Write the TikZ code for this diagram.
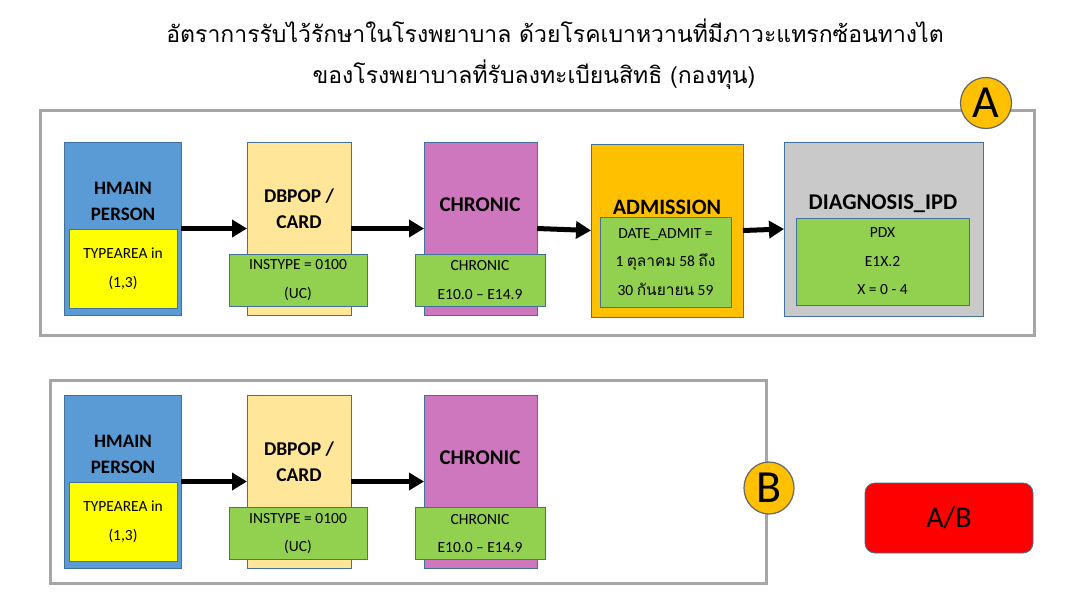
\documentclass[tikz,border=0pt]{standalone}
\usepackage{fontspec}
\setmainfont{Carlito}
\newfontfamily\thaifont[Script=Thai]{Loma}
\usetikzlibrary{arrows.meta,shapes.geometric}

\definecolor{hmainblue}{HTML}{5B9BD5}
\definecolor{dbpopcream}{HTML}{FFE699}
\definecolor{chronicpink}{HTML}{CF77BE}
\definecolor{admitorange}{HTML}{FFC000}
\definecolor{diaggray}{HTML}{C9C9C9}
\definecolor{condgreen}{HTML}{92D050}
\definecolor{areayellow}{HTML}{FFFF00}
\definecolor{framegray}{HTML}{A6A6A6}
\definecolor{edgeblue}{HTML}{41719C}

\tikzset{
  tbl/.style={draw=edgeblue, line width=0.5pt, inner sep=0pt, outer sep=0pt},
  cond/.style={draw=edgeblue, line width=0.8pt, fill=condgreen, inner sep=0pt,
    align=center, font=\fontsize{15.5}{28.5}\selectfont},
  head/.style={align=center, inner sep=0pt, font=\fontsize{#1}{26}\selectfont\bfseries},
  head/.default=19,
  flow/.style={-{Triangle[length=15pt,width=17pt]}, line width=5pt, black},
  frame/.style={draw=framegray, line width=3pt},
  tag/.style={circle, fill=admitorange, draw=gray!80!black, line width=1.2pt,
    inner sep=0pt, font=\fontsize{46}{46}\selectfont}
}

\begin{document}
\begin{tikzpicture}[x=1pt, y=-1pt]
  \useasboundingbox (0,0) rectangle (1085,606);

  % Title
  \node[font=\thaifont\fontsize{23}{27}\selectfont] (title1) at (555,31)
    {อัตราการรับไว้รักษาในโรงพยาบาล ด้วยโรคเบาหวานที่มีภาวะแทรกซ้อนทางไต};
  \node[font=\thaifont\fontsize{23}{27}\selectfont] (title2) at (534,75)
    {ของโรงพยาบาลที่รับลงทะเบียนสิทธิ (กองทุน)};

  % Frame A
  \draw[frame] (40,110) rectangle (1034,335);

  % Tables of A
  \node[tbl, fill=hmainblue, minimum width=117pt, minimum height=173pt] (hmainA) at (122.5,228.5) {};
  \node[tbl, fill=dbpopcream, minimum width=104pt, minimum height=173pt] (dbpopA) at (299,228.5) {};
  \node[tbl, fill=chronicpink, minimum width=113pt, minimum height=173pt] (chronicA) at (480.5,228.5) {};
  \node[tbl, fill=admitorange, minimum width=152pt, minimum height=173pt] (admitA) at (667,230.5) {};
  \node[tbl, fill=diaggray, minimum width=199pt, minimum height=174pt] (diagA) at (883.5,229) {};

  \node[head] (hmainAlbl) at (123,201) {HMAIN\\PERSON};
  \node[head=19.5] (dbpopAlbl) at (299,209) {DBPOP /\\CARD};
  \node[head=21] (chronicAlbl) at (480,205) {CHRONIC};
  \node[head=22] (admitAlbl) at (667,207) {ADMISSION};
  \node[head=22.5] (diagAlbl) at (883,204) {DIAGNOSIS\_IPD};

  % Conditions of A
  \node[cond, fill=areayellow, minimum width=108pt, minimum height=79pt] (areaA) at (123,268.5) {TYPEAREA in\\(1,3)};
  \node[cond, minimum width=138pt, minimum height=52pt] (instA) at (298,280) {INSTYPE = 0100\\(UC)};
  \node[cond, minimum width=130pt, minimum height=52pt] (codeA) at (480,280) {CHRONIC\\E10.0 -- E14.9};
  \node[cond, minimum width=131pt, minimum height=90pt] (dateA) at (665.5,262)
    {DATE\_ADMIT =\\1 {\thaifont ตุลาคม} 58 {\thaifont ถึง}\\ 30 {\thaifont กันยายน} 59};
  \node[cond, minimum width=173pt, minimum height=87pt] (pdxA) at (882.5,261.5) {PDX\\E1X.2\\X = 0 - 4};

  \draw[flow] (hmainA) -- (dbpopA);
  \draw[flow] (dbpopA) -- (chronicA);
  \draw[flow] (chronicA.east) -- (admitA.west);
  \draw[flow] (admitA.east) -- (diagA.west);

  \node[tag, minimum size=51pt] (tagA) at (986,103) {A};

  % Frame B
  \draw[frame] (50,380) rectangle (766,583);

  \node[tbl, fill=hmainblue, minimum width=117pt, minimum height=173pt] (hmainB) at (122.5,481.5) {};
  \node[tbl, fill=dbpopcream, minimum width=104pt, minimum height=173pt] (dbpopB) at (299,481.5) {};
  \node[tbl, fill=chronicpink, minimum width=113pt, minimum height=173pt] (chronicB) at (480.5,481.5) {};

  \node[head] (hmainBlbl) at (123,454) {HMAIN\\PERSON};
  \node[head=19.5] (dbpopBlbl) at (299,462) {DBPOP /\\CARD};
  \node[head=21] (chronicBlbl) at (480,458) {CHRONIC};

  \node[cond, fill=areayellow, minimum width=108pt, minimum height=79pt] (areaB) at (123,521.5) {TYPEAREA in\\(1,3)};
  \node[cond, minimum width=138pt, minimum height=52pt] (instB) at (298,533.5) {INSTYPE = 0100\\(UC)};
  \node[cond, minimum width=130pt, minimum height=52pt] (codeB) at (480,533.5) {CHRONIC\\E10.0 -- E14.9};

  \draw[flow] (hmainB) -- (dbpopB);
  \draw[flow] (dbpopB) -- (chronicB);

  \node[tag, ellipse, minimum width=50pt, minimum height=52pt] (tagB) at (769,488) {B};

  % Ratio
  \node[draw=edgeblue, line width=0.8pt, fill=red, rounded corners=10pt, minimum width=168pt,
    minimum height=70pt, font=\fontsize{30}{30}\selectfont] (ratio) at (949,518) {A/B};
\end{tikzpicture}
\end{document}
